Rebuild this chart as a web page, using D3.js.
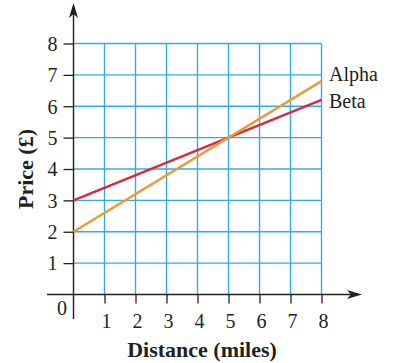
<!DOCTYPE html>
<html>
<head>
<meta charset="utf-8">
<script src="https://cdn.jsdelivr.net/npm/d3@7"></script>
<style>
  html, body { margin: 0; padding: 0; background: #fff; }
  svg { display: block; }
  text { font-family: "Liberation Serif", "Times New Roman", serif; fill: #231f20; }
</style>
</head>
<body>
<svg id="chart" width="395" height="363"></svg>
<script>
// Price against distance for two taxi firms
const distances = [0, 8];
const alphaPrices = [2, 6.8];
const betaPrices = [3, 6.2];
const seriesNames = ["Alpha", "Beta"];
const xTicks = [1, 2, 3, 4, 5, 6, 7, 8];
const yTicks = [1, 2, 3, 4, 5, 6, 7, 8];
const gridValues = [1, 2, 3, 4, 5, 6, 7, 8];

const svg = d3.select("#chart");
const x = d3.scaleLinear().domain([0, 8]).range([73.5, 321.5]);
const y = d3.scaleLinear().domain([0, 8]).range([294.5, 43.5]);

const gridColor = "#33ace0";
const ink = "#231f20";
const labelSize = 20;

// grid
const grid = svg.append("g");
grid.selectAll("line.v").data(gridValues).join("line")
  .attr("x1", d => x(d)).attr("x2", d => x(d))
  .attr("y1", y(0)).attr("y2", y(8))
  .attr("stroke", gridColor).attr("stroke-width", 1.4);
grid.selectAll("line.h").data(gridValues).join("line")
  .attr("x1", x(0)).attr("x2", x(8))
  .attr("y1", d => y(d)).attr("y2", d => y(d))
  .attr("stroke", gridColor).attr("stroke-width", 1.4);

// axes ticks
const xAxis = svg.append("g").attr("transform", `translate(0,${y(0)})`)
  .call(d3.axisBottom(x).tickValues(xTicks).tickSize(9).tickPadding(5).tickFormat(d3.format("d")));
const yAxis = svg.append("g").attr("transform", `translate(${x(0)},0)`)
  .call(d3.axisLeft(y).tickValues(yTicks).tickSize(10).tickPadding(6).tickFormat(d3.format("d")));
[xAxis, yAxis].forEach(a => {
  a.attr("font-size", null).attr("font-family", null);
  a.select(".domain").remove();
  a.selectAll(".tick line").attr("stroke", ink).attr("stroke-width", 1.3);
  a.selectAll(".tick text").style("font-size", labelSize + "px").attr("fill", ink)
    .style("font-family", "Liberation Serif, serif");
});
xAxis.selectAll(".tick text").attr("dy", "0.95em").attr("dx", 1.5);
yAxis.selectAll(".tick text").attr("dy", "0.34em");

// main axis lines with arrowheads
svg.append("line").attr("x1", 47).attr("x2", 352).attr("y1", y(0)).attr("y2", y(0))
  .attr("stroke", ink).attr("stroke-width", 1.4);
svg.append("line").attr("x1", x(0)).attr("x2", x(0)).attr("y1", 319).attr("y2", 12)
  .attr("stroke", ink).attr("stroke-width", 1.4);
const ax = x(0), ay = y(0);
svg.append("path")
  .attr("d", `M362,${ay} L347,${ay - 4.5} L351,${ay} L347,${ay + 4.5} Z`)
  .attr("fill", ink);
svg.append("path")
  .attr("d", `M${ax},3 L${ax - 4.5},18 L${ax},14 L${ax + 4.5},18 Z`)
  .attr("fill", ink);

// origin label
svg.append("text").attr("x", 67).attr("y", 315).attr("text-anchor", "end")
  .style("font-size", labelSize + "px").text("0");

// series lines
const line = d3.line().x(d => x(d[0])).y(d => y(d[1]));
svg.append("path").datum(distances.map((d, i) => [d, betaPrices[i]]))
  .attr("d", line).attr("fill", "none").attr("stroke", "#d9283f").attr("stroke-width", 2.4);
svg.append("path").datum(distances.map((d, i) => [d, alphaPrices[i]]))
  .attr("d", line).attr("fill", "none").attr("stroke", "#ec9a35").attr("stroke-width", 2.4);

// series labels
svg.append("text").attr("x", 329).attr("y", 81).style("font-size", labelSize + "px").text(seriesNames[0]);
svg.append("text").attr("x", 329).attr("y", 108).style("font-size", labelSize + "px").text(seriesNames[1]);

// axis titles
svg.append("text").attr("x", 202).attr("y", 357).attr("text-anchor", "middle")
  .style("font-size", "22px").attr("font-weight", "bold").text("Distance (miles)");
svg.append("text").attr("transform", `translate(33,${y(4)}) rotate(-90)`)
  .attr("text-anchor", "middle").style("font-size", "22px").attr("font-weight", "bold")
  .text("Price (£)");
</script>
</body>
</html>
